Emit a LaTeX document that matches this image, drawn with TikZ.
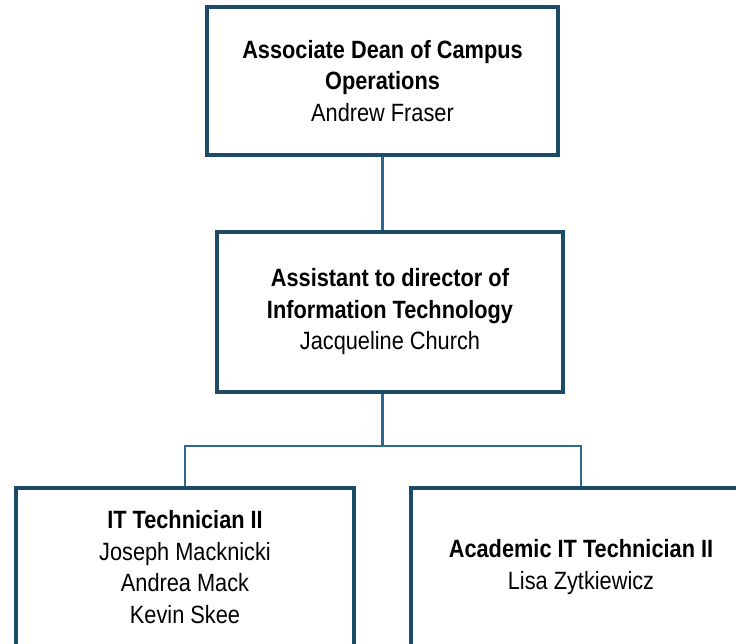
\documentclass[tikz,border=0pt]{standalone}
\usepackage{fontspec}
\setmainfont[FakeStretch=0.87]{Liberation Sans}
\usepackage{tikz}
\usetikzlibrary{calc}

\definecolor{boxline}{HTML}{1D4B66}
\definecolor{linkline}{HTML}{2B6A8C}

\begin{document}
\begin{tikzpicture}[x=1pt,y=-1pt]
	    \tikzstyle{every node}=[draw=boxline,line width=4pt,rectangle,align=center,inner sep=0pt,font=\fontsize{25}{31.5}\selectfont]
	    \tikzstyle{link}=[draw=linkline,line width=2.6pt]
	    \fill[white] (0,0) rectangle (736,644);
	    \clip (0,0) rectangle (736,644);
	    % boxes
	    \node[minimum width=351pt,minimum height=148pt] (dean) at (382.5,81)
	        {\textbf{Associate Dean of Campus}\\\textbf{Operations}\\Andrew Fraser};
	    \node[minimum width=346pt,minimum height=160pt] (assist) at (390,312)
	        {\textbf{Assistant to director of}\\\textbf{Information Technology}\\Jacqueline Church};
	    \node[minimum width=338pt,minimum height=158pt] (tech) at (185,567)
	        {\textbf{IT Technician II}\\Joseph Macknicki\\Andrea Mack\\Kevin Skee};
	    \node[minimum width=340pt,minimum height=158pt] (acad) at (581,567)
	        {\textbf{Academic IT Technician II}\\Lisa Zytkiewicz};
	    % connectors
	    \coordinate (bar) at (382.5,446);
	    \draw[link] (dean.south) -- (dean.south |- assist.north);
	    \draw[link] (bar |- assist.south) -- (bar);
	    \draw[link] (tech.north) |- (bar) -| (acad.north);
	\end{tikzpicture}
\end{document}
